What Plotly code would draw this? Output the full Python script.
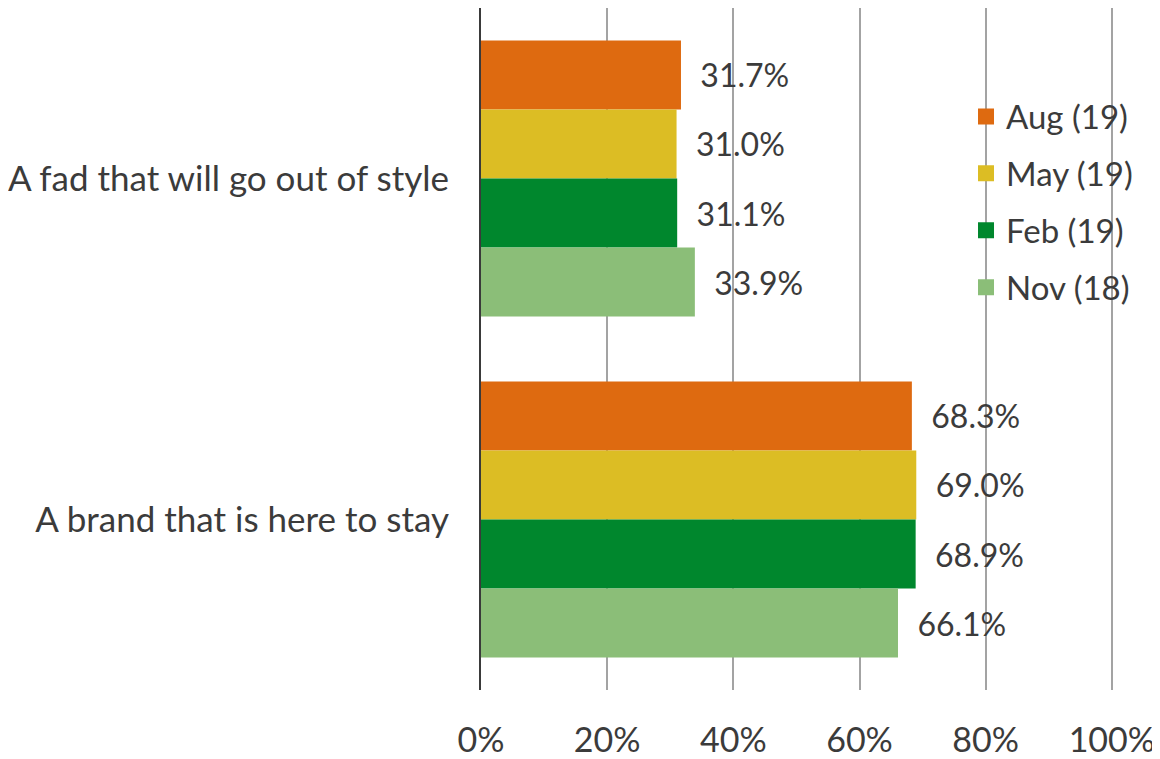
import plotly.graph_objects as go

categories = ["A fad that will go out of style", "A brand that is here to stay"]
series_names = ["Aug (19)", "May (19)", "Feb (19)", "Nov (18)"]
aug = [31.7, 68.3]
may = [31.0, 69.0]
feb = [31.1, 68.9]
nov = [33.9, 66.1]
series_values = [aug, may, feb, nov]
colors = ["#DE6A10", "#DCBD24", "#00872D", "#8BBE78"]
x_ticks = [0, 20, 40, 60, 80, 100]
x_ticklabels = ["0%", "20%", "40%", "60%", "80%", "100%"]

FONT = "Lato, 'Open Sans', sans-serif"
TXT = "#3b3b3b"

fig = go.Figure()
for name, vals, col in zip(series_names, series_values, colors):
    fig.add_trace(go.Bar(
        y=categories, x=vals, name=name, orientation="h",
        legendgroup=name, showlegend=False,
        marker=dict(color=col, line=dict(width=0)),
        text=[f"{v:.1f}%" for v in vals],
        texttemplate="\u00a0\u00a0%{text}",
        textposition="outside", cliponaxis=False,
        textfont=dict(family=FONT, size=32, color=TXT),
    ))
# legend entries with larger square swatches
for name, col in zip(series_names, colors):
    fig.add_trace(go.Scatter(
        x=[None], y=[None], mode="markers", name=name, legendgroup=name,
        marker=dict(symbol="square", size=16, color=col, line=dict(width=0)),
        showlegend=True, hoverinfo="skip",
    ))

fig.update_layout(
    width=1152, height=751,
    barmode="group", bargap=0.19, bargroupgap=0,
    plot_bgcolor="white", paper_bgcolor="white",
    margin=dict(l=473, r=45, t=0, b=69, autoexpand=False),
    font=dict(family=FONT, size=34, color=TXT),
    legend=dict(x=0.765, y=0.882, xanchor="left", yanchor="top",
                font=dict(family=FONT, size=33, color=TXT),
                bgcolor="rgba(0,0,0,0)", tracegroupgap=11),
    showlegend=True,
)
fig.update_xaxes(range=[0, 100.5], tickvals=x_ticks, ticktext=x_ticklabels,
                 showgrid=True, gridcolor="#a3a3a3", gridwidth=2,
                 zeroline=False, showline=False, ticks="",
                 ticklabelstandoff=27,
                 tickfont=dict(family=FONT, size=34, color=TXT))
fig.update_yaxes(autorange="reversed", showgrid=False, zeroline=False,
                 showline=True, linecolor="#3a3a3a", linewidth=2,
                 ticks="", ticklabelstandoff=23,
                 tickfont=dict(family=FONT, size=35, color=TXT))

fig.write_html("out.html")
